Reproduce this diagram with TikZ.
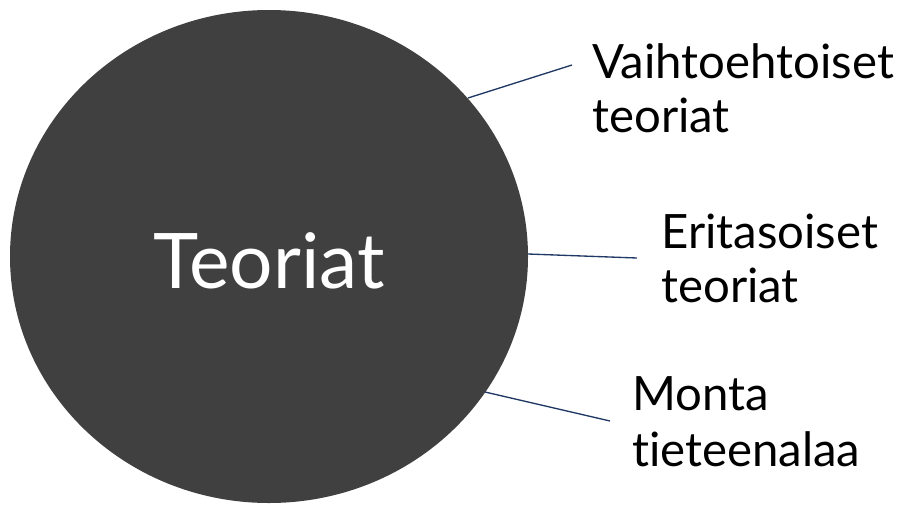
\documentclass[tikz,border=0pt]{standalone}
\usepackage{fontspec}
\setmainfont{Lato}[Ligatures=NoCommon]
\usetikzlibrary{shapes.geometric}
\begin{document}
\begin{tikzpicture}[x=0.75pt,y=-0.75pt,
  lbl/.style={anchor=base west,inner sep=0pt,font=\fontsize{35.5}{40}\selectfont,text=black},
  conn/.style={draw=linecol,line width=1pt}]
\definecolor{linecol}{HTML}{1F3864}
\definecolor{discol}{HTML}{404040}
\useasboundingbox (0,0) rectangle (914,504);
\node[ellipse,fill=discol,minimum width=518*0.75pt,minimum height=493*0.75pt,inner sep=0pt] (disc) at (269,256.5) {};
\node[anchor=base,inner sep=0pt,text=white,font=\fontsize{57.5}{60}\selectfont] (main) at (269,288) {Teoriat};
\node[lbl] (v1) at (592,78) {Vaihtoehtoiset};
\node[lbl] (v2) at (592,132) {teoriat};
\node[lbl] (e1) at (661,248) {Eritasoiset};
\node[lbl] (e2) at (661,302) {teoriat};
\node[lbl] (m1) at (632,410) {Monta};
\node[lbl] (m2) at (632,466) {tieteenalaa};
\coordinate (a1) at (468,98); \coordinate (b1) at (572,65);
\coordinate (a2) at (528,254); \coordinate (b2) at (637,258);
\coordinate (a3) at (485,392); \coordinate (b3) at (610,421);
\draw[conn] (a1) -- (b1);
\draw[conn] (a2) -- (b2);
\draw[conn] (a3) -- (b3);
\end{tikzpicture}
\end{document}
